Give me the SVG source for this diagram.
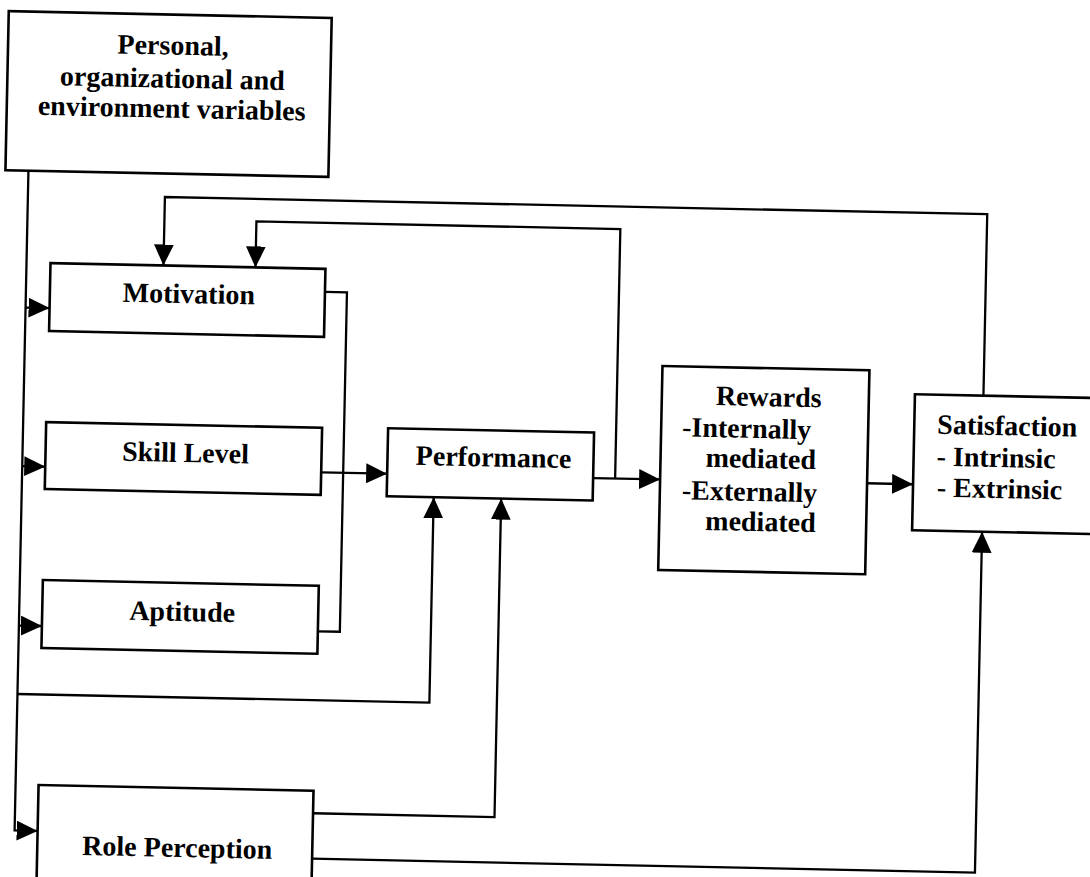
<svg xmlns="http://www.w3.org/2000/svg" width="1090" height="877" viewBox="0 0 1090 877">
<style>
.box{fill:#fff;stroke:#000;stroke-width:2.6}
.ln{fill:none;stroke:#000;stroke-width:2.3}
.t{font-family:"Liberation Serif","Times New Roman",serif;font-weight:bold;font-size:28px;fill:#000}
.c{text-anchor:middle}
</style>
<defs>
<marker id="ah" markerUnits="userSpaceOnUse" markerWidth="21" markerHeight="20" viewBox="0 0 19 18" refX="19" refY="9" orient="auto">
<path d="M0,0 L19,9 L0,18 Z" fill="#000"/>
</marker>
</defs>
<rect width="1090" height="877" fill="#fff"/>
<g transform="rotate(1.2)">
<g id="connectors" class="ln">
<path class="ln" d="M32,170 V830 H55" marker-end="url(#ah)"/>
<path class="ln" d="M32,307 H56" marker-end="url(#ah)"/>
<path class="ln" d="M32,465.5 H55" marker-end="url(#ah)"/>
<path class="ln" d="M32,625 H55" marker-end="url(#ah)"/>
<path class="ln" d="M32,693.5 H444 V488" marker-end="url(#ah)"/>
<path class="ln" d="M331,285 H353 V624.5 H331"/>
<path class="ln" d="M331,465.5 H397" marker-end="url(#ah)"/>
<path class="ln" d="M603,465.5 H670" marker-end="url(#ah)"/>
<path class="ln" d="M625,465.5 V216 H261 V262" marker-end="url(#ah)"/>
<path class="ln" d="M877,465 H923" marker-end="url(#ah)"/>
<path class="ln" d="M991.5,375 V193.5 H169 V262" marker-end="url(#ah)"/>
<path class="ln" d="M330,806.5 H511.5 V488" marker-end="url(#ah)"/>
<path class="ln" d="M330,852 H993 V511" marker-end="url(#ah)"/>
</g>
<g id="node-variables">
<rect class="box" x="9" y="11" width="323" height="159"/>
<text class="t c" x="174" y="51">Personal,</text>
<text class="t c" x="174" y="84">organizational and</text>
<text class="t c" x="174" y="114">environment variables</text>
</g>
<g id="node-motivation">
<rect class="box" x="56" y="262" width="275" height="68"/>
<text class="t c" x="195" y="299">Motivation</text>
</g>
<g id="node-skill">
<rect class="box" x="55" y="421" width="276" height="67"/>
<text class="t c" x="195" y="458">Skill Level</text>
</g>
<g id="node-aptitude">
<rect class="box" x="55" y="579" width="276" height="68"/>
<text class="t c" x="195" y="617">Aptitude</text>
</g>
<g id="node-role">
<rect class="box" x="55" y="784" width="275" height="130"/>
<text class="t c" x="195" y="853">Role Perception</text>
</g>
<g id="node-performance">
<rect class="box" x="397" y="420" width="206" height="68"/>
<text class="t c" x="503" y="456">Performance</text>
</g>
<g id="node-rewards">
<rect class="box" x="670" y="352" width="207" height="204"/>
<text class="t" x="724" y="390">Rewards</text>
<text class="t" x="691" y="422">-Internally</text>
<text class="t" x="715" y="452">mediated</text>
<text class="t" x="692" y="485">-Externally</text>
<text class="t" x="716" y="515">mediated</text>
</g>
<g id="node-satisfaction">
<rect class="box" x="923" y="375" width="180" height="136"/>
<text class="t" x="946" y="414">Satisfaction</text>
<text class="t" x="946" y="446">- Intrinsic</text>
<text class="t" x="947" y="477">- Extrinsic</text>
</g>
</g>
</svg>
